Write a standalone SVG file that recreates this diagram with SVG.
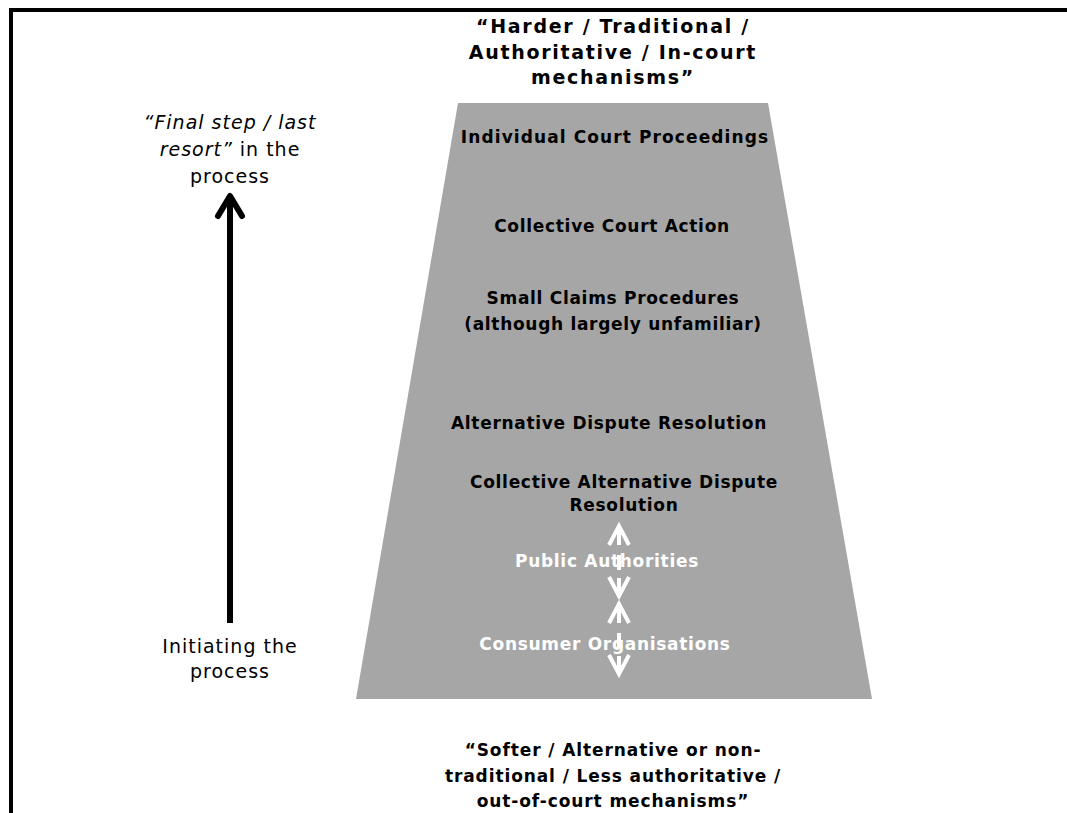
<svg xmlns="http://www.w3.org/2000/svg" width="1067" height="813" viewBox="0 0 1067 813">
<style>
.title{font-family:"DejaVu Sans",Verdana,sans-serif;font-weight:bold;fill:#000;text-anchor:middle}
.t1{font-size:19px;letter-spacing:1.7px}
.t2{font-size:17px;letter-spacing:0.9px}
.lbl{font-family:"DejaVu Sans",Verdana,sans-serif;font-weight:bold;font-size:17px;letter-spacing:0.7px;fill:#000;text-anchor:middle}
.wlbl{font-family:"DejaVu Sans",Verdana,sans-serif;font-weight:bold;font-size:17px;letter-spacing:0.7px;fill:#fff;text-anchor:middle}
.side{font-family:"DejaVu Sans",Verdana,sans-serif;font-size:19px;letter-spacing:1px;fill:#000;text-anchor:middle}
.warr{stroke:#fff;stroke-width:4;fill:none}
</style>
<rect width="1067" height="813" fill="#fff"/>
<g id="frame">
<path d="M11,813 V10 H1067" fill="none" stroke="#000" stroke-width="4"/>
</g>
<g id="pyramid">
<polygon points="458,103 768,103 872,699 356,699" fill="#a6a6a6"/>
</g>
<g id="top-title">
<text class="title t1" x="613" y="33">“Harder / Traditional /</text>
<text class="title t1" x="613" y="59">Authoritative / In-court</text>
<text class="title t1" x="613" y="84">mechanisms”</text>
</g>
<g id="bottom-title">
<text class="title t2" x="613" y="756">“Softer / Alternative or non-</text>
<text class="title t2" x="613" y="782">traditional / Less authoritative /</text>
<text class="title t2" x="613" y="807">out-of-court mechanisms”</text>
</g>
<g id="individual-court"><text class="lbl" x="615" y="143" style="letter-spacing:1.1px">Individual Court Proceedings</text></g>
<g id="collective-court"><text class="lbl" x="612" y="232">Collective Court Action</text></g>
<g id="small-claims">
<text class="lbl" x="613" y="304">Small Claims Procedures</text>
<text class="lbl" x="613" y="330">(although largely unfamiliar)</text>
</g>
<g id="adr"><text class="lbl" x="609" y="429">Alternative Dispute Resolution</text></g>
<g id="collective-adr">
<text class="lbl" x="624" y="488">Collective Alternative Dispute</text>
<text class="lbl" x="624" y="511">Resolution</text>
</g>
<g id="public-authorities"><text class="wlbl" x="607" y="567">Public Authorities</text></g>
<g id="consumer-orgs"><text class="wlbl" x="605" y="650">Consumer Organisations</text></g>
<g id="side-top">
<text class="side" x="230" y="129"><tspan font-style="italic">“Final step / last</tspan></text>
<text class="side" x="230" y="156"><tspan font-style="italic">resort”</tspan> in the</text>
<text class="side" x="230" y="183">process</text>
</g>
<g id="side-bottom">
<text class="side" x="230" y="653">Initiating the</text>
<text class="side" x="230" y="678">process</text>
</g>
<g id="connectors">
<g id="main-arrow" stroke="#000" stroke-width="6" fill="none" stroke-linecap="round" stroke-linejoin="round">
<line x1="230" y1="196" x2="230" y2="623" stroke-linecap="butt"/>
<polyline points="218,216 230,196 242,216"/>
</g>
<g id="arrow-pa" class="warr">
<polyline points="609,545 619,526 629,545"/>
<line x1="619" y1="529" x2="619" y2="545"/>
<line x1="619" y1="555" x2="619" y2="570"/>
<line x1="619" y1="578" x2="619" y2="594"/>
<polyline points="609,577 619,596 629,577"/>
</g>
<g id="arrow-co" class="warr">
<polyline points="609,623 619,604 629,623"/>
<line x1="619" y1="607" x2="619" y2="623"/>
<line x1="619" y1="633" x2="619" y2="648"/>
<line x1="619" y1="656" x2="619" y2="672"/>
<polyline points="609,655 619,674 629,655"/>
</g>
</g>
</svg>
